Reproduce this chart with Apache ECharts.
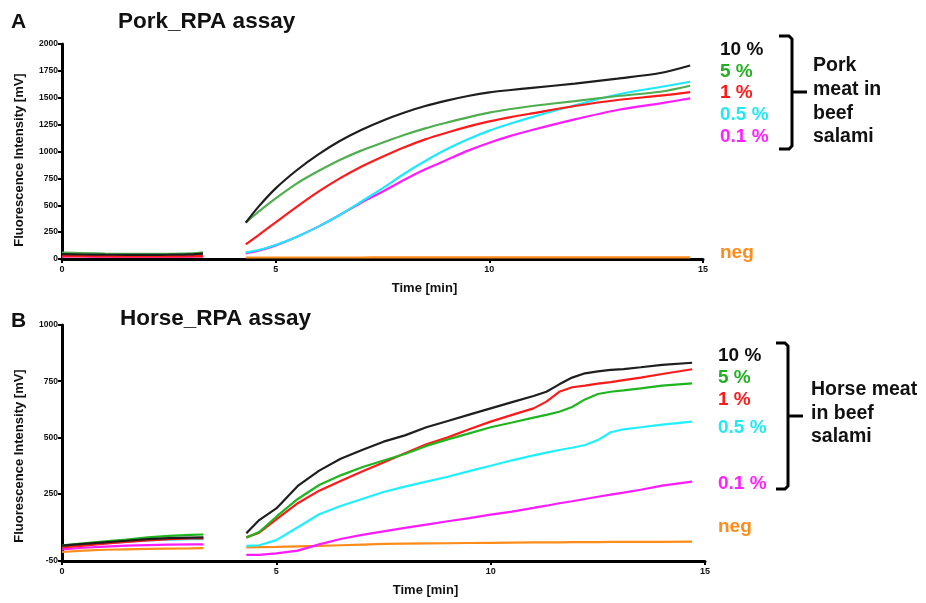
<!DOCTYPE html>
<html>
<head>
<meta charset="utf-8">
<script src="https://cdn.jsdelivr.net/npm/echarts@6/dist/echarts.min.js"></script>
<style>
html,body{margin:0;padding:0;background:#fff;}
#chart{width:926px;height:603px;}
</style>
</head>
<body>
<div id="chart"></div>
<script>
// ---------- DATA ----------
// Panel A: Pork_RPA assay
const porkTime1 = [0, 0.5, 1, 1.5, 2, 2.5, 3, 3.3];
const porkTime2 = [4.3, 4.6, 5, 5.5, 6, 6.5, 7, 7.5, 8, 8.5, 9, 9.5, 10, 10.5, 11, 12, 13, 14, 14.7];
const pork10_1 = [45, 42, 40, 39, 39, 40, 43, 50];
const pork10_2 = [338, 487, 657, 828, 973, 1097, 1200, 1287, 1361, 1423, 1473, 1516, 1550, 1572, 1592, 1632, 1678, 1730, 1800];
const pork5_1 = [60, 55, 50, 48, 47, 48, 52, 62];
const pork5_2 = [338, 440, 564, 704, 818, 921, 1008, 1082, 1153, 1215, 1268, 1318, 1361, 1395, 1423, 1469, 1516, 1556, 1612];
const pork1_1 = [30, 28, 26, 25, 25, 25, 26, 28];
const pork1_2 = [136, 223, 341, 487, 626, 750, 859, 952, 1038, 1113, 1175, 1231, 1280, 1320, 1355, 1423, 1479, 1519, 1553];
const pork05_1 = [55, 50, 46, 44, 43, 44, 46, 50];
const pork05_2 = [62, 84, 130, 208, 301, 409, 533, 657, 791, 911, 1020, 1113, 1194, 1260, 1320, 1430, 1530, 1600, 1649];
const pork01_1 = [25, 24, 22, 22, 22, 22, 23, 25];
const pork01_2 = [53, 77, 127, 208, 301, 409, 524, 626, 735, 834, 921, 1008, 1082, 1145, 1200, 1299, 1386, 1448, 1494];
const porkNeg_1 = [22, 21, 20, 20, 20, 20, 21, 22];
const porkNeg_2 = [14, 14, 14, 14, 14, 14, 14, 15, 15, 15, 16, 16, 16, 16, 16, 15, 15, 15, 15];

// Panel B: Horse_RPA assay
const horseTime1 = [0, 0.5, 1, 1.5, 2, 2.5, 3, 3.3];
const horseTime2 = [4.3, 4.6, 5, 5.5, 6, 6.5, 7, 7.5, 8, 8.5, 9, 9.5, 10, 10.5, 11, 11.3, 11.6, 11.9, 12.2, 12.5, 12.8, 13.1, 13.5, 14, 14.7];
const horse10_1 = [18, 26, 33, 40, 47, 52, 54, 55];
const horse10_2 = [73, 132, 184, 284, 352, 405, 444, 481, 509, 545, 573, 601, 629, 657, 684, 703, 736, 766, 785, 794, 800, 804, 812, 823, 832];
const horse5_1 = [20, 28, 37, 45, 55, 62, 66, 68];
const horse5_2 = [55, 79, 147, 226, 288, 331, 367, 397, 426, 462, 491, 518, 545, 566, 588, 600, 614, 635, 669, 693, 703, 709, 718, 730, 740];
const horse1_1 = [10, 18, 27, 35, 42, 47, 50, 51];
const horse1_2 = [55, 76, 135, 207, 263, 306, 348, 388, 429, 469, 500, 536, 570, 600, 629, 659, 703, 723, 730, 739, 746, 755, 766, 782, 803];
const horse05_1 = [12, 20, 28, 35, 42, 45, 47, 47];
const horse05_2 = [17, 20, 43, 100, 158, 195, 226, 257, 281, 303, 325, 350, 374, 398, 420, 432, 444, 454, 466, 488, 523, 536, 545, 557, 570];
const horse01_1 = [2, 9, 14, 18, 21, 23, 24, 24];
const horse01_2 = [-23, -23, -16, -4, 24, 48, 66, 82, 97, 112, 127, 141, 156, 170, 186, 196, 207, 216, 226, 236, 245, 254, 267, 285, 303];
const horseNeg_1 = [-10, -4, 0, 2, 4, 5, 6, 7];
const horseNeg_2 = [11, 12, 13, 15, 17, 20, 23, 26, 27, 28, 29, 30, 31, 32, 33, 33, 33, 34, 34, 34, 35, 35, 35, 35, 36];

const xTicks = [0, 5, 10, 15];
const porkYTicks = [0, 250, 500, 750, 1000, 1250, 1500, 1750, 2000];
const horseYTicks = [-50, 250, 500, 750, 1000];

const seriesLabels = ['10 %', '5 %', '1 %', '0.5 %', '0.1 %', 'neg'];

// ---------- STYLE ----------
const FONT = "'Liberation Sans', Arial, sans-serif";
const colorsA = ['#1e1e1e', '#4fae4f', '#ff1a1a', '#1ee8ff', '#ff1aff', '#ff8c1a'];
const colorsB = ['#1e1e1e', '#1fb51f', '#ff1a1a', '#1ef0ff', '#ff1aff', '#ff8c1a'];
const legendColors = ['#111111', '#22b022', '#ff1a1a', '#22e8f5', '#ff22ff', '#ff8c1a'];

function build(t1, v1, t2, v2) {
  const d = [];
  t1.forEach((t, i) => d.push([t, v1[i]]));
  d.push([(t1[t1.length - 1] + t2[0]) / 2, '-']);
  t2.forEach((t, i) => d.push([t, v2[i]]));
  return d;
}

const porkSets = [
  [pork10_1, pork10_2], [pork5_1, pork5_2], [pork1_1, pork1_2],
  [pork05_1, pork05_2], [pork01_1, pork01_2], [porkNeg_1, porkNeg_2]
];
const horseSets = [
  [horse10_1, horse10_2], [horse5_1, horse5_2], [horse1_1, horse1_2],
  [horse05_1, horse05_2], [horse01_1, horse01_2], [horseNeg_1, horseNeg_2]
];

const series = [];
[5, 4, 3, 2, 1, 0].forEach(i => {
  series.push({
    name: 'A ' + seriesLabels[i], type: 'line', xAxisIndex: 0, yAxisIndex: 0,
    data: build(porkTime1, porkSets[i][0], porkTime2, porkSets[i][1]),
    smooth: 0.3, showSymbol: false, symbol: 'none', connectNulls: false,
    lineStyle: { color: colorsA[i], width: 2.2 }, itemStyle: { color: colorsA[i] },
    z: 3
  });
});
[5, 4, 3, 2, 1, 0].forEach(i => {
  series.push({
    name: 'B ' + seriesLabels[i], type: 'line', xAxisIndex: 1, yAxisIndex: 1,
    data: build(horseTime1, horseSets[i][0], horseTime2, horseSets[i][1]),
    smooth: false, showSymbol: false, symbol: 'none', connectNulls: false,
    lineStyle: { color: colorsB[i], width: 2.2 }, itemStyle: { color: colorsB[i] },
    z: 3
  });
});

function xAxisDef(idx) {
  return {
    type: 'value', gridIndex: idx, min: 0, max: 15, interval: 5,
    name: 'Time [min]', nameLocation: 'middle', nameGap: 23,
    nameTextStyle: { fontFamily: FONT, fontWeight: 'bold', fontSize: 13, color: '#111', padding: [0, 0, 0, 84] },
    axisLine: { show: true, onZero: false, lineStyle: { color: '#000', width: 3 } },
    axisTick: { show: true, length: 4, lineStyle: { color: '#000', width: 2 } },
    axisLabel: { fontFamily: FONT, fontWeight: 'bold', fontSize: 9, color: '#111', margin: 6,
      formatter: v => String(v) },
    splitLine: { show: false }
  };
}

function yAxisDef(idx, min, max, ticks, pad) {
  return {
    type: 'value', gridIndex: idx, min: min, max: max,
    name: 'Fluorescence Intensity [mV]', nameLocation: 'middle', nameGap: 36, nameRotate: 90,
    nameTextStyle: { fontFamily: FONT, fontWeight: 'bold', fontSize: 13, color: '#111', padding: pad },
    axisLine: { show: true, onZero: false, lineStyle: { color: '#000', width: 3 } },
    axisTick: { show: true, length: 4, lineStyle: { color: '#000', width: 2 }, customValues: ticks },
    axisLabel: { fontFamily: FONT, fontWeight: 'bold', fontSize: 8.5, color: '#111', margin: 4,
      customValues: ticks, formatter: v => String(v) },
    splitLine: { show: false }
  };
}

function txt(x, y, text, color, size) {
  return {
    type: 'text', x: x, y: y, z: 10,
    style: { text: text, fill: color, font: 'bold ' + size + 'px ' + FONT,
      textAlign: 'left', textVerticalAlign: 'middle', verticalAlign: 'middle' }
  };
}

function bracket(xl, xv, yt, yb, ym, xn) {
  return [
    { type: 'polyline', z: 10, shape: { points: [[xl, yt], [xv - 3, yt], [xv, yt + 3], [xv, yb - 3], [xv - 3, yb], [xl, yb]] },
      style: { fill: null, stroke: '#000', lineWidth: 3 } },
    { type: 'line', z: 10, shape: { x1: xv, y1: ym, x2: xn, y2: ym },
      style: { stroke: '#000', lineWidth: 3 } }
  ];
}

let graphics = [];
graphics.push(txt(11, 22, 'A', '#111', 21));
graphics.push(txt(118, 22, 'Pork_RPA assay', '#111', 22.5));
graphics.push(txt(11, 321, 'B', '#111', 21));
graphics.push(txt(120, 319, 'Horse_RPA assay', '#111', 22.5));

const legAY = [50, 72, 93, 115, 137, 253];
seriesLabels.forEach((s, i) => graphics.push(txt(720, legAY[i], s, legendColors[i], 19)));
['Pork', 'meat in', 'beef', 'salami'].forEach((s, i) => graphics.push(txt(813, 66 + i * 23.7, s, '#111', 19.5)));
graphics = graphics.concat(bracket(779, 792, 36, 149, 92, 807));

const legBY = [356, 378, 400, 428, 484, 527];
seriesLabels.forEach((s, i) => graphics.push(txt(718, legBY[i], s, legendColors[i], 19)));
['Horse meat', 'in beef', 'salami'].forEach((s, i) => graphics.push(txt(811, 390 + i * 23.3, s, '#111', 19.5)));
graphics = graphics.concat(bracket(776, 788, 343, 489, 416, 803));

const option = {
  backgroundColor: '#fff',
  animation: false,
  grid: [
    { left: 62, top: 44, width: 641, height: 215 },
    { left: 62, top: 325, width: 643, height: 236 }
  ],
  xAxis: [xAxisDef(0), xAxisDef(1)],
  yAxis: [
    yAxisDef(0, 0, 2000, porkYTicks, [0, 17, 0, 0]),
    yAxisDef(1, -50, 1000, horseYTicks, [0, 26, 0, 0])
  ],
  series: series,
  graphic: { elements: graphics }
};

const chart = echarts.init(document.getElementById('chart'), null, { renderer: 'canvas' });
chart.setOption(option);
</script>
</body>
</html>
